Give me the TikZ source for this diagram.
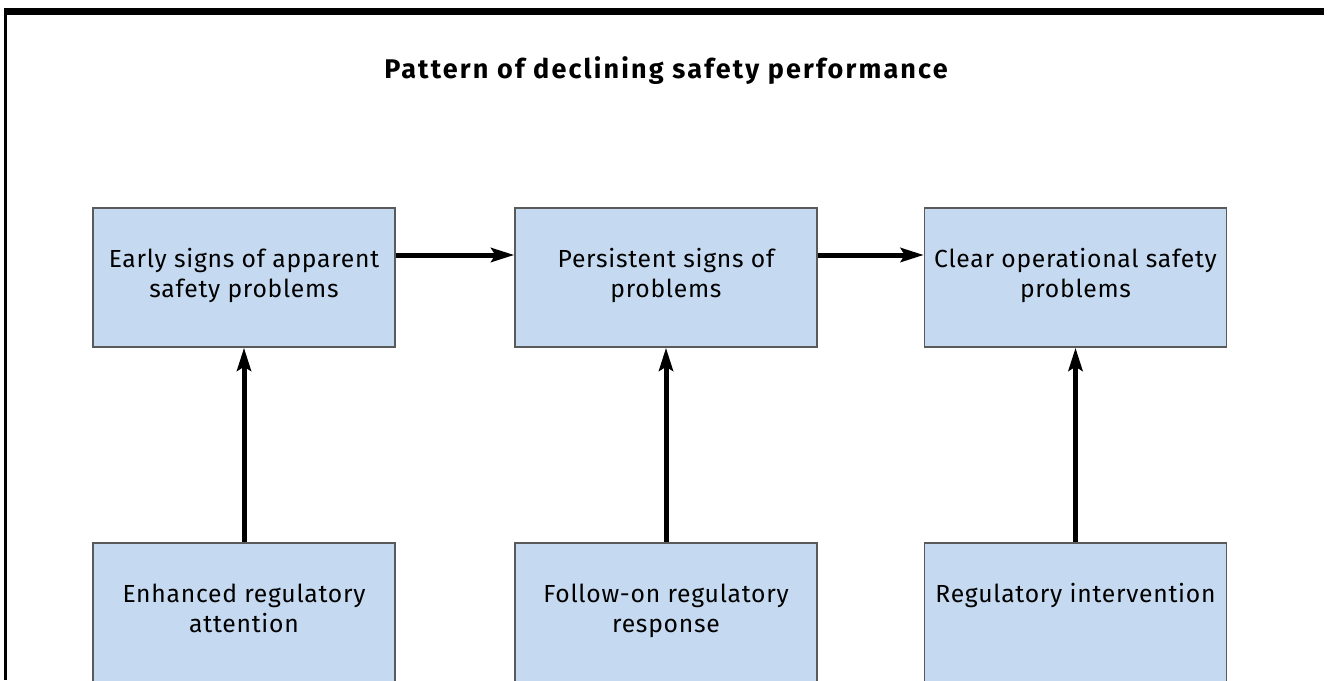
\documentclass[tikz,border=0pt]{standalone}
\usepackage{fontspec}
\setmainfont{Fira Sans}
\newfontfamily\boxfont[LetterSpace=3]{Fira Sans}
\newfontfamily\titlefont[LetterSpace=8]{Fira Sans}
\usetikzlibrary{arrows.meta,positioning}
\definecolor{boxblue}{RGB}{197,218,240}
\definecolor{boxedge}{RGB}{90,90,90}
\tikzset{
  box/.style={draw=boxedge, line width=1.5pt, fill=boxblue, minimum width=302pt, minimum height=139pt, inner sep=0pt},
  boxtext/.style={anchor=base, align=center, font=\boxfont\fontsize{24.7}{30}\selectfont, inner sep=0pt},
  flow/.style={line width=5pt, -{Stealth[length=23pt,width=14pt,inset=4pt]}},
  frame/.style={fill=black, draw=none}
}
\begin{document}
\begin{tikzpicture}[x=1pt,y=-1pt]
\useasboundingbox (0,0) rectangle (1329,680);
\clip (0,0) rectangle (1329,680);
\fill[frame] (4,8) rectangle (1324,15);
\fill[frame] (4,8) rectangle (7,680);
\node[anchor=base, font=\titlefont\bfseries\fontsize{27}{30}\selectfont, inner sep=0pt] (title) at (666,78) {Pattern of declining safety performance};

\node[box] (b1) at (244,277.5) {};
\node[box] (b2) at (666,277.5) {};
\node[box] (b3) at (1075.5,277.5) {};
\node[box] (c1) at (244,612.5) {};
\node[box] (c2) at (666,612.5) {};
\node[box] (c3) at (1075.5,612.5) {};

\node[boxtext] (tb1) at ([yshift=-90pt]b1.north) {Early signs of apparent\\safety problems};
\node[boxtext] (tb2) at ([yshift=-90pt]b2.north) {Persistent signs of\\problems};
\node[boxtext] (tb3) at ([yshift=-90pt]b3.north) {Clear operational safety\\problems};
\node[boxtext] (tc1) at ([yshift=-90pt]c1.north) {Enhanced regulatory\\attention};
\node[boxtext] (tc2) at ([yshift=-90pt]c2.north) {Follow-on regulatory\\response};
\node[boxtext] (tc3) at ([yshift=-60pt]c3.north) {Regulatory intervention};

\draw[flow] ([yshift=22.5pt]b1.east) -- ([yshift=22.5pt]b2.west);
\draw[flow] ([yshift=22.5pt]b2.east) -- ([yshift=22.5pt]b3.west);
\draw[flow] (c1.north) -- (b1.south);
\draw[flow] (c2.north) -- (b2.south);
\draw[flow] (c3.north) -- (b3.south);
\end{tikzpicture}
\end{document}
